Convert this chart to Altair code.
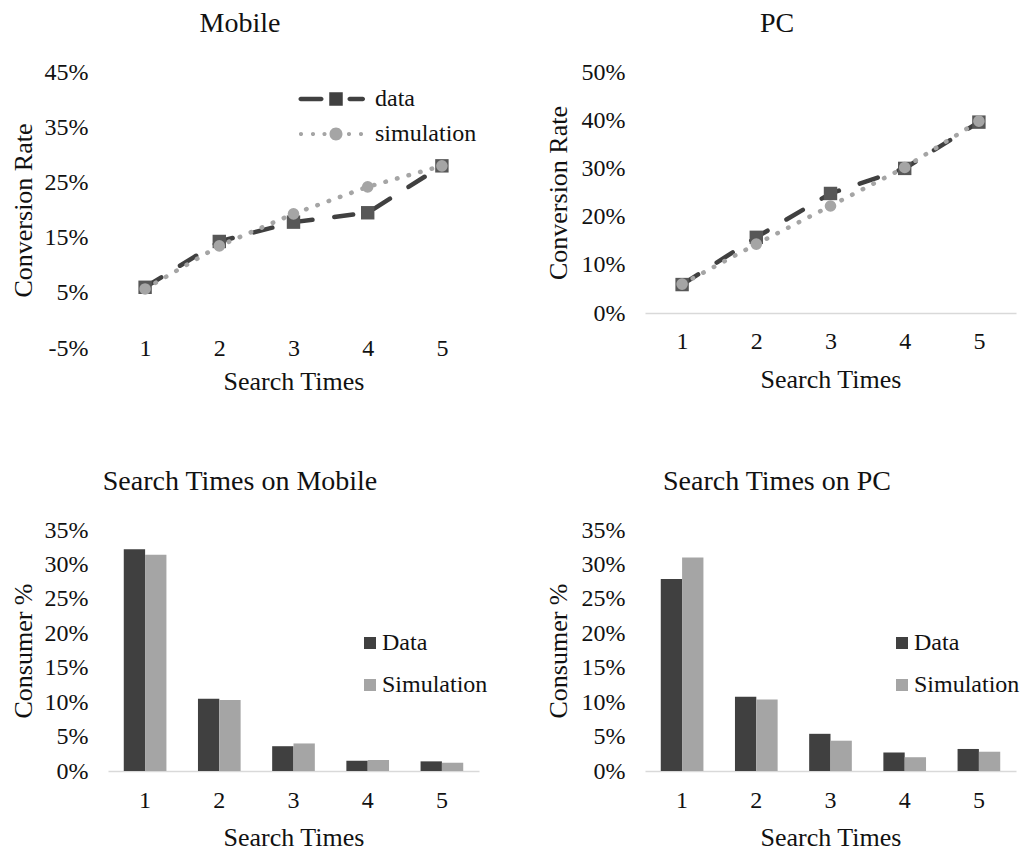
import altair as alt
import pandas as pd

# ---------------- data ----------------
search_times = [1, 2, 3, 4, 5]
series_line = ["data", "simulation"]
series_bar = ["Data", "Simulation"]

mobile_conv_data = [0.060, 0.143, 0.178, 0.195, 0.280]
mobile_conv_sim = [0.057, 0.135, 0.193, 0.242, 0.280]
pc_conv_data = [0.059, 0.157, 0.248, 0.300, 0.396]
pc_conv_sim = [0.060, 0.143, 0.222, 0.302, 0.398]

mobile_share_data = [0.322, 0.105, 0.036, 0.015, 0.014]
mobile_share_sim = [0.314, 0.103, 0.040, 0.016, 0.012]
pc_share_data = [0.279, 0.108, 0.054, 0.027, 0.032]
pc_share_sim = [0.310, 0.104, 0.044, 0.020, 0.028]

mobile_conv_ticks = [-0.05, 0.05, 0.15, 0.25, 0.35, 0.45]
pc_conv_ticks = [0.0, 0.1, 0.2, 0.3, 0.4, 0.5]
share_ticks = [0.0, 0.05, 0.10, 0.15, 0.20, 0.25, 0.30, 0.35]

# ---------------- style ----------------
FONT = "'Liberation Serif', 'Times New Roman', Times, serif"
TXT = "#111111"
DARK = "#404040"
MARK_DARK = "#575757"
GRAY = "#a5a5a5"
AXIS = "#d9d9d9"
W = 371

# legend symbols (unit coords, scaled by sqrt(size)/2 = 5px)
def rrect(x0, x1, h):
    return (f"M {x0+h} {-h} L {x1-h} {-h} A {h} {h} 0 0 1 {x1-h} {h} "
            f"L {x0+h} {h} A {h} {h} 0 0 1 {x0+h} {-h} Z ")

def circ(cx, r):
    return (f"M {cx-r} 0 A {r} {r} 0 1 0 {cx+r} 0 A {r} {r} 0 1 0 {cx-r} 0 Z ")

DATA_SYM = rrect(-7.5, -2.5, 0.45) + "M -1.35 -1.35 L 1.35 -1.35 L 1.35 1.35 L -1.35 1.35 Z " + rrect(2.3, 5.8, 0.45)
SIM_SYM = circ(-7.0, 0.42) + circ(-4.6, 0.42) + circ(-2.3, 0.42) + circ(0, 1.3) + circ(2.6, 0.42) + circ(5.0, 0.42)

zero_grid = {"condition": {"test": "datum.value === 0", "value": 1}, "value": 0}


def panel_title(text):
    return alt.TitleParams(text, font=FONT, fontSize=28, fontWeight="normal", color=TXT,
                           offset=22, anchor="middle", frame="group", dx=-53.5)


def line_panel(title, d_vals, s_vals, ydomain, yticks, height, xlab_pad, xtitle_pad, ytitle_pad, with_legend):
    df = pd.DataFrame({
        "x": search_times * 2,
        "y": d_vals + s_vals,
        "series": [series_line[0]] * 5 + [series_line[1]] * 5,
    })
    x = alt.X("x:O", scale=alt.Scale(type="point", padding=0.5),
              axis=alt.Axis(title="Search Times", labelAngle=0, domain=False, ticks=False,
                            tickSize=0, labelPadding=xlab_pad, labelBaseline="middle",
                            titlePadding=xtitle_pad))
    y = alt.Y("y:Q", scale=alt.Scale(domain=ydomain, nice=False, zero=False),
              axis=alt.Axis(values=yticks, format=".0%",
                            labelExpr="replace(datum.label, '\u2212', '-')",
                            title="Conversion Rate", domain=False, ticks=False, tickSize=0,
                            grid=True, gridColor=AXIS, gridWidth=1.5, gridOpacity=zero_grid,
                            labelPadding=20, titlePadding=ytitle_pad))
    base = alt.Chart(df)
    line = base.mark_line(strokeWidth=4.5, strokeCap="round").encode(
        x=x, y=y,
        color=alt.Color("series:N", scale=alt.Scale(domain=series_line, range=[DARK, GRAY]), legend=None),
        strokeDash=alt.StrokeDash("series:N", scale=alt.Scale(domain=series_line, range=[[19, 22], [0.5, 11.5]]), legend=None),
    )
    pts = base.mark_point(filled=True, opacity=1).encode(
        x=x, y=y,
        color=alt.Color("series:N", scale=alt.Scale(domain=series_line, range=[MARK_DARK, GRAY]), legend=None),
        shape=alt.Shape("series:N", scale=alt.Scale(domain=series_line, range=["square", "circle"]), legend=None),
        size=alt.Size("series:N", scale=alt.Scale(domain=series_line, range=[180, 135]), legend=None),
    )
    layers = [line, pts]
    if with_legend:
        lg = alt.Legend(orient="none", legendX=216, legendY=15,
                        title=None, labelFont=FONT, labelFontSize=24, labelColor=TXT,
                        labelOffset=27, rowPadding=11, symbolSize=100,
                        symbolStrokeWidth=0, padding=0)
        leg = base.transform_filter("false").mark_point(filled=True, opacity=1, size=100).encode(
            color=alt.Color("series:N", scale=alt.Scale(domain=series_line, range=[DARK, GRAY]), legend=lg),
            shape=alt.Shape("series:N", scale=alt.Scale(domain=series_line, range=[DATA_SYM, SIM_SYM]), legend=lg),
        )
        layers.append(leg)
    return alt.layer(*layers).resolve_scale(
        color="independent", shape="independent", size="independent", strokeDash="independent"
    ).properties(width=W, height=height, title=panel_title(title))


def bar_panel(title, d_vals, s_vals, ytitle_pad, legend_xy):
    df = pd.DataFrame({
        "x": search_times * 2,
        "y": d_vals + s_vals,
        "series": [series_bar[0]] * 5 + [series_bar[1]] * 5,
    })
    return alt.Chart(df).mark_bar().encode(
        x=alt.X("x:O", scale=alt.Scale(paddingInner=0.425, paddingOuter=0.2125),
                axis=alt.Axis(title="Search Times", labelAngle=0, domain=True, domainColor=AXIS,
                              domainWidth=1.5, ticks=False, tickSize=0, labelPadding=29,
                              labelBaseline="middle", titlePadding=12)),
        xOffset=alt.XOffset("series:N", scale=alt.Scale(domain=series_bar, paddingInner=0, paddingOuter=0)),
        y=alt.Y("y:Q", scale=alt.Scale(domain=[0, 0.35], nice=False),
                axis=alt.Axis(values=share_ticks, format=".0%", title="Consumer %", domain=False,
                              ticks=False, tickSize=0, grid=False, labelPadding=20,
                              titlePadding=ytitle_pad)),
        color=alt.Color("series:N", scale=alt.Scale(domain=series_bar, range=[DARK, GRAY]),
                        legend=alt.Legend(orient="none", legendX=legend_xy[0], legendY=legend_xy[1],
                                          title=None, labelFont=FONT, labelFontSize=24, labelColor=TXT,
                                          symbolType="square", symbolSize=144, symbolStrokeWidth=0,
                                          labelOffset=0, rowPadding=18, padding=0)),
    ).properties(width=W, height=241, title=panel_title(title))


tl = line_panel("Mobile", mobile_conv_data, mobile_conv_sim, [-0.05, 0.45], mobile_conv_ticks, 276, 0, 8, 8, True)
tr = line_panel("PC", pc_conv_data, pc_conv_sim, [0, 0.5], pc_conv_ticks, 241, 28, 13, 10, False)
bl = bar_panel("Search Times on Mobile", mobile_share_data, mobile_share_sim, 8, (250, 101))
br = bar_panel("Search Times on PC", pc_share_data, pc_share_sim, 10, (245, 101))

chart = alt.concat(
    tl, tr, bl, br, columns=2, bounds="flush", spacing={"row": 182, "column": 166}
).resolve_scale(
    color="independent", shape="independent", size="independent", strokeDash="independent"
).resolve_legend(color="independent", shape="independent").properties(
    padding={"left": 10, "top": 10, "right": 0, "bottom": 0},
    background="white",
).configure_view(stroke=None).configure_axis(
    labelFont=FONT, labelFontSize=24, labelColor=TXT,
    titleFont=FONT, titleFontSize=26, titleFontWeight="normal", titleColor=TXT,
).configure_legend(labelFont=FONT).configure_title(font=FONT)

chart.save("out.html", embed_options={"renderer": "svg", "actions": False})
